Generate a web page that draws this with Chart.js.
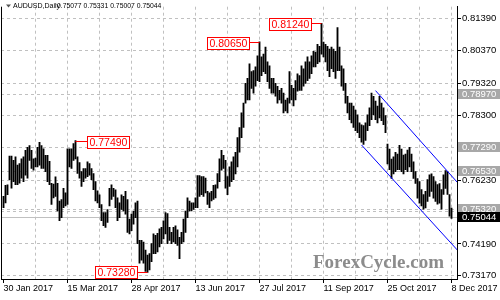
<!DOCTYPE html>
<html>
<head>
<meta charset="utf-8">
<script src="https://cdn.jsdelivr.net/npm/chart.js@4.4.1/dist/chart.umd.min.js"></script>
<style>
  html, body { margin: 0; padding: 0; background: #fff; }
  #wrap { width: 500px; height: 300px; }
</style>
</head>
<body>
<div id="wrap"><canvas id="chart" width="500" height="300"></canvas></div>
<script>
// AUDUSD daily bars, 30 Jan 2017 .. 8 Dec 2017
const symbolName = 'AUDUSD,Daily';
const dateLabels = ['30 Jan 2017', '15 Mar 2017', '28 Apr 2017', '13 Jun 2017',
                    '27 Jul 2017', '11 Sep 2017', '25 Oct 2017', '8 Dec 2017'];

const highs = [
  0.7571, 0.7606, 0.7608, 0.7700, 0.7700, 0.7686, 0.7697, 0.7671, 0.7676, 0.7691,
  0.7697, 0.7718, 0.7728, 0.7733, 0.7718, 0.7691, 0.7693, 0.7728, 0.7744, 0.7733,
  0.7723, 0.7702, 0.7702, 0.7683, 0.7613, 0.7610, 0.7633, 0.7613, 0.7556, 0.7561,
  0.7597, 0.7582, 0.7723, 0.7723, 0.7723, 0.7740, 0.7749, 0.7697, 0.7679, 0.7650,
  0.7660, 0.7660, 0.7681, 0.7676, 0.7660, 0.7644, 0.7618, 0.7589, 0.7576, 0.7545,
  0.7519, 0.7519, 0.7529, 0.7597, 0.7608, 0.7597, 0.7592, 0.7566, 0.7550, 0.7576,
  0.7571, 0.7587, 0.7561, 0.7498, 0.7514, 0.7524, 0.7550, 0.7556, 0.7430, 0.7430,
  0.7425, 0.7399, 0.7383, 0.7388, 0.7420, 0.7451, 0.7446, 0.7453, 0.7467, 0.7472,
  0.7493, 0.7519, 0.7516, 0.7472, 0.7456, 0.7472, 0.7477, 0.7464, 0.7440, 0.7456,
  0.7498, 0.7524, 0.7566, 0.7556, 0.7550, 0.7550, 0.7566, 0.7637, 0.7637, 0.7634,
  0.7634, 0.7629, 0.7587, 0.7582, 0.7587, 0.7606, 0.7608, 0.7644, 0.7691, 0.7718,
  0.7702, 0.7686, 0.7634, 0.7665, 0.7681, 0.7697, 0.7712, 0.7759, 0.7791, 0.7838,
  0.7869, 0.7932, 0.7948, 0.7995, 0.7970, 0.7973, 0.7985, 0.8020, 0.8065, 0.8017,
  0.8026, 0.8048, 0.8001, 0.7988, 0.7948, 0.7948, 0.7932, 0.7923, 0.7910, 0.7916,
  0.7901, 0.7879, 0.7885, 0.7970, 0.7926, 0.7916, 0.7941, 0.7963, 0.7957, 0.7988,
  0.7979, 0.8001, 0.8017, 0.8001, 0.8020, 0.8035, 0.8032, 0.8057, 0.8051, 0.8124,
  0.8064, 0.8057, 0.8051, 0.8042, 0.8048, 0.8042, 0.8035, 0.8111, 0.8048, 0.7988,
  0.7979, 0.7932, 0.7891, 0.7869, 0.7869, 0.7860, 0.7847, 0.7832, 0.7806, 0.7800,
  0.7797, 0.7806, 0.7832, 0.7854, 0.7901, 0.7891, 0.7876, 0.7860, 0.7891, 0.7869,
  0.7854, 0.7829, 0.7738, 0.7722, 0.7690, 0.7697, 0.7712, 0.7706, 0.7734, 0.7722,
  0.7703, 0.7706, 0.7719, 0.7728, 0.7706, 0.7681, 0.7650, 0.7628, 0.7618, 0.7593,
  0.7577, 0.7587, 0.7625, 0.7640, 0.7643, 0.7634, 0.7618, 0.7609, 0.7612, 0.7593,
  0.7640, 0.7653, 0.7650, 0.7577, 0.75331
];

const lows = [
  0.7535, 0.7550, 0.7576, 0.7624, 0.7597, 0.7618, 0.7608, 0.7608, 0.7613, 0.7629,
  0.7618, 0.7639, 0.7629, 0.7686, 0.7660, 0.7655, 0.7665, 0.7665, 0.7671, 0.7660,
  0.7660, 0.7650, 0.7618, 0.7608, 0.7545, 0.7566, 0.7571, 0.7524, 0.7493, 0.7503,
  0.7535, 0.7540, 0.7545, 0.7665, 0.7660, 0.7686, 0.7691, 0.7644, 0.7629, 0.7603,
  0.7618, 0.7629, 0.7634, 0.7639, 0.7624, 0.7592, 0.7556, 0.7550, 0.7535, 0.7493,
  0.7477, 0.7472, 0.7488, 0.7540, 0.7561, 0.7571, 0.7535, 0.7493, 0.7503, 0.7529,
  0.7524, 0.7514, 0.7456, 0.7451, 0.7461, 0.7482, 0.7503, 0.7420, 0.7357, 0.7367,
  0.7357, 0.7331, 0.7328, 0.7336, 0.7362, 0.7388, 0.7388, 0.7393, 0.7409, 0.7420,
  0.7435, 0.7451, 0.7420, 0.7430, 0.7420, 0.7425, 0.7420, 0.7414, 0.7372, 0.7420,
  0.7425, 0.7456, 0.7503, 0.7524, 0.7524, 0.7529, 0.7535, 0.7535, 0.7571, 0.7576,
  0.7571, 0.7582, 0.7545, 0.7535, 0.7556, 0.7561, 0.7566, 0.7597, 0.7618, 0.7655,
  0.7660, 0.7597, 0.7576, 0.7603, 0.7618, 0.7624, 0.7643, 0.7665, 0.7712, 0.7759,
  0.7791, 0.7869, 0.7879, 0.7879, 0.7916, 0.7901, 0.7923, 0.7941, 0.7938, 0.7957,
  0.7970, 0.7963, 0.7938, 0.7916, 0.7901, 0.7901, 0.7891, 0.7869, 0.7879, 0.7869,
  0.7838, 0.7844, 0.7838, 0.7869, 0.7879, 0.7860, 0.7879, 0.7907, 0.7910, 0.7910,
  0.7923, 0.7932, 0.7941, 0.7948, 0.7963, 0.7985, 0.7985, 0.7995, 0.8001, 0.8026,
  0.8017, 0.8001, 0.7973, 0.7954, 0.7979, 0.7970, 0.7948, 0.7973, 0.7973, 0.7923,
  0.7910, 0.7869, 0.7838, 0.7816, 0.7806, 0.7791, 0.7781, 0.7775, 0.7759, 0.7744,
  0.7737, 0.7750, 0.7781, 0.7797, 0.7816, 0.7832, 0.7816, 0.7806, 0.7822, 0.7813,
  0.7800, 0.7775, 0.7675, 0.7656, 0.7628, 0.7643, 0.7650, 0.7656, 0.7656, 0.7650,
  0.7643, 0.7656, 0.7650, 0.7665, 0.7650, 0.7628, 0.7612, 0.7565, 0.7549, 0.7540,
  0.7530, 0.7534, 0.7555, 0.7571, 0.7587, 0.7565, 0.7555, 0.7546, 0.7549, 0.7530,
  0.7577, 0.7596, 0.7577, 0.7508, 0.75007
];

// last bar: open, high, low, close
const lastQuote = [0.75077, 0.75331, 0.75007, 0.75044];

// price axis ticks and marked horizontal levels
const yTicks = [0.81390, 0.80370, 0.79320, 0.78300, 0.77270, 0.76230, 0.75210, 0.74190, 0.73170];
const levels = [0.78970, 0.77290, 0.76530, 0.75320];

// swing points called out with their price
const calloutBars = [36, 72, 128, 159];
const calloutKinds = ['high', 'low', 'high', 'high'];

// descending channel (bar index, price)
const channelUpper = [[186, 0.79091], [227, 0.76151]];
const channelLower = [[179, 0.77353], [227, 0.73987]];

const barData = highs.map((h, i) => ({ x: i, y: [lows[i], h] }));

const GRID = '#c0c0c0';
const AXIS_FONT = '"Liberation Sans", Arial, sans-serif';

const overlay = {
  id: 'overlay',
  beforeDatasetsDraw(chart) {
    const { ctx, chartArea: a, scales: { y } } = chart;
    ctx.save();
    // watermark
    ctx.font = 'bold 19px "Liberation Serif", "Times New Roman", serif';
    ctx.fillStyle = '#8c8c8c';
    ctx.textBaseline = 'alphabetic';
    ctx.textAlign = 'left';
    ctx.fillText('ForexCycle.com', 313, 268);
    // horizontal levels
    ctx.strokeStyle = GRID;
    ctx.lineWidth = 1;
    ctx.setLineDash([3, 3]);
    levels.forEach(v => {
      const py = Math.round(y.getPixelForValue(v)) + 0.5;
      ctx.beginPath(); ctx.moveTo(a.left, py); ctx.lineTo(a.right, py); ctx.stroke();
    });
    // current price line
    ctx.setLineDash([]);
    const pc = Math.round(y.getPixelForValue(lastQuote[3])) + 0.5;
    ctx.beginPath(); ctx.moveTo(a.left, pc); ctx.lineTo(a.right, pc); ctx.stroke();
    ctx.restore();
  },
  afterDraw(chart) {
    const { ctx, chartArea: a, scales: { x, y } } = chart;
    ctx.save();
    // left frame line
    ctx.strokeStyle = '#000';
    ctx.lineWidth = 1;
    ctx.beginPath(); ctx.moveTo(1.5, a.top); ctx.lineTo(1.5, a.bottom); ctx.stroke();

    // header: symbol and last bar OHLC
    ctx.textBaseline = 'middle';
    ctx.textAlign = 'left';
    ctx.fillStyle = '#555';
    ctx.beginPath(); ctx.moveTo(6, 4.5); ctx.lineTo(11, 4.5); ctx.lineTo(8.5, 7.5); ctx.closePath(); ctx.fill();
    ctx.fillStyle = '#000';
    ctx.font = '7px "Liberation Sans Narrow", "Liberation Sans", sans-serif';
    ctx.fillText(symbolName, 13, 6.5);
    ctx.font = '6.8px "Liberation Sans", sans-serif';
    let hx = 57;
    lastQuote.forEach(v => { ctx.fillText(v.toFixed(5), hx, 6.5); hx += 26.6; });

    // price callouts
    ctx.font = '10.5px ' + AXIS_FONT;
    calloutBars.forEach((bi, k) => {
      const v = calloutKinds[k] === 'high' ? highs[bi] : lows[bi];
      const txt = v.toFixed(5);
      const bx = Math.floor(x.getPixelForValue(bi)) + 0.5;
      const by = Math.round(y.getPixelForValue(v)) + 0.5;
      const w = Math.ceil(ctx.measureText(txt).width) + 4;
      const h = 12;
      const toRight = k === 0;
      const boxL = Math.round(toRight ? bx + 11 : bx - 11 - w);
      ctx.strokeStyle = '#ff0000';
      ctx.lineWidth = 1;
      ctx.beginPath();
      ctx.moveTo(bx, by);
      ctx.lineTo(toRight ? boxL : boxL + w, by);
      ctx.stroke();
      let top = Math.round(by - h / 2);
      if (top + h > a.bottom - 1) top = a.bottom - 1 - h;
      ctx.fillStyle = '#fff';
      ctx.fillRect(boxL + 0.5, top + 0.5, w, h);
      ctx.strokeRect(boxL + 0.5, top + 0.5, w, h);
      ctx.fillStyle = '#ff0000';
      ctx.textAlign = 'left';
      ctx.textBaseline = 'middle';
      ctx.fillText(txt, boxL + 2.5, top + h / 2 + 1);
    });

    // price tags on the axis
    ctx.font = '9.5px ' + AXIS_FONT;
    const tag = (v, bg) => {
      const py = y.getPixelForValue(v);
      ctx.fillStyle = bg;
      ctx.fillRect(a.right + 1, Math.round(py - 5), 500 - a.right - 1, 10);
      ctx.fillStyle = '#fff';
      ctx.textAlign = 'left';
      ctx.textBaseline = 'middle';
      ctx.fillText(v.toFixed(5), a.right + 5, Math.round(py) + 0.5);
    };
    levels.forEach(v => tag(v, '#a8a8a8'));
    tag(lastQuote[3], '#000');
    ctx.restore();
  }
};

new Chart(document.getElementById('chart'), {
  data: {
    datasets: [
      {
        type: 'bar',
        data: barData,
        backgroundColor: '#000',
        borderWidth: 0,
        barThickness: 1.2,
        grouped: false,
        order: 2
      },
      {
        type: 'line',
        data: channelUpper.map(p => ({ x: p[0], y: p[1] })),
        borderColor: '#0000ff',
        borderWidth: 1,
        pointRadius: 0,
        fill: false,
        order: 1
      },
      {
        type: 'line',
        data: channelLower.map(p => ({ x: p[0], y: p[1] })),
        borderColor: '#0000ff',
        borderWidth: 1,
        pointRadius: 0,
        fill: false,
        order: 1
      }
    ]
  },
  options: {
    responsive: false,
    animation: false,
    devicePixelRatio: 1,
    layout: { padding: { left: 1, top: 0, right: 0, bottom: 0 } },
    plugins: { legend: { display: false }, tooltip: { enabled: false } },
    scales: {
      x: {
        type: 'linear',
        min: -1.25,
        max: 226.75,
        offset: false,
        afterBuildTicks: s => {
          const t = [];
          for (let v = 0; v <= 224; v += 16) t.push({ value: v });
          s.ticks = t;
        },
        afterFit: s => { s.height = 21; },
        ticks: {
          autoSkip: false,
          maxRotation: 0,
          align: 'start',
          padding: 0,
          color: '#000',
          font: { family: AXIS_FONT, size: 9 },
          callback: v => (v % 32 === 0 ? dateLabels[v / 32] : '')
        },
        grid: {
          offset: false,
          color: c => (c.tick && c.tick.value === 0 ? 'rgba(0,0,0,0)' : GRID),
          lineWidth: 1,
          tickLength: 4,
          tickWidth: 1,
          tickColor: c => (c.tick && c.tick.value % 32 === 0 ? '#000' : 'rgba(0,0,0,0)')
        },
        border: { display: true, color: '#000', width: 1, dash: [3, 3] }
      },
      y: {
        position: 'right',
        min: 0.73067,
        max: 0.81774,
        beginAtZero: false,
        afterBuildTicks: s => { s.ticks = yTicks.map(v => ({ value: v })); },
        afterFit: s => { s.width = 43; },
        ticks: {
          color: '#000',
          padding: 1,
          font: { family: AXIS_FONT, size: 9.5 },
          callback: v => Number(v).toFixed(5)
        },
        grid: { color: GRID, lineWidth: 1, tickLength: 4, tickWidth: 1, tickColor: '#000' },
        border: { display: true, color: '#000', width: 1, dash: [3, 3] }
      }
    }
  },
  plugins: [overlay]
});
</script>
</body>
</html>
